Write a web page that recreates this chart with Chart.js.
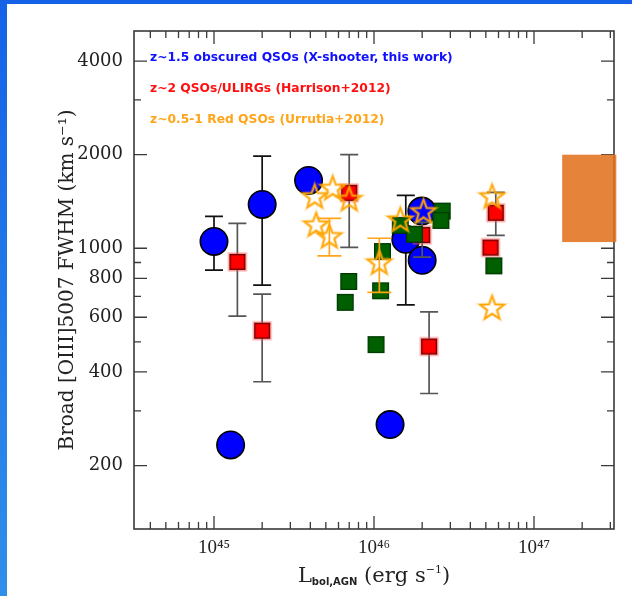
<!DOCTYPE html>
<html>
<head>
<meta charset="utf-8">
<script src="https://cdn.jsdelivr.net/npm/chart.js@4.4.1/dist/chart.umd.min.js"></script>
<style>
  html, body { margin: 0; padding: 0; background: #fff; }
  #wrap { position: relative; width: 632px; height: 596px; overflow: hidden; background: #fff; }
  #c { position: absolute; left: 0; top: 0; }
  .edge-left { position: absolute; left: 0; top: 0; width: 7px; height: 596px; background: linear-gradient(#1562e7, #2f8fe9); }
  .edge-top { position: absolute; left: 0; top: 0; width: 632px; height: 4px; background: #1562e7; }
</style>
</head>
<body>
<div id="wrap">
  <canvas id="c" width="632" height="596"></canvas>
  <div class="edge-left"></div>
  <div class="edge-top"></div>
</div>
<script>
// ---- z~1.5 obscured QSOs (X-shooter) ----
const obscuredL    = [1.0e45, 1.27e45, 2.0e45, 3.9e45, 1.58e46, 1.99e46, 2.0e46, 1.26e46];
const obscuredFWHM = [1052, 233, 1384, 1652, 1069, 1317, 915, 271];
const obscuredLow  = [850, null, 761, null, 658, null, null, null];
const obscuredHigh = [1266, null, 1980, null, 1479, null, null, null];

// ---- z~2 QSOs/ULIRGs (Harrison+2012) ----
const harrisonL    = [1.4e45, 2.0e45, 7.0e45, 2.0e46, 2.21e46, 5.35e46, 5.77e46];
const harrisonFWHM = [904, 543, 1508, 1103, 483, 1005, 1301];
const harrisonLow  = [605, 372, 1007, 936, 341, null, 1101];
const harrisonHigh = [1203, 712, 2000, 1212, 624, null, 1514];

// ---- additional comparison sample (green squares) ----
const greenL    = [6.61e45, 6.95e45, 1.03e46, 1.1e46, 1.13e46, 1.46e46, 1.79e46, 2.67e46, 2.62e46, 5.61e46];
const greenFWHM = [670, 782, 490, 730, 976, 1185, 1109, 1317, 1229, 878];

// ---- z~0.5-1 Red QSOs (Urrutia+2012) ----
const urrutiaL    = [4.26e45, 5.52e45, 7.0e45, 4.35e45, 5.26e45, 1.08e46, 1.46e46, 2.04e46, 5.47e46, 5.47e46];
const urrutiaFWHM = [1471, 1565, 1443, 1194, 1095, 902, 1239, 1317, 1471, 645];
const urrutiaLow  = [null, null, null, null, 945, 721, null, null, null, null];
const urrutiaHigh = [null, null, null, null, 1248, 1077, null, null, null, null];

// ---- axes ----
const xRange = [3.1623e44, 3.1623e47];
const yRange = [125, 5000];
const xMajorTicks = [1e45, 1e46, 1e47];
const xMinorTicks = [4e44, 5e44, 6e44, 7e44, 8e44, 9e44,
                     2e45, 3e45, 4e45, 5e45, 6e45, 7e45, 8e45, 9e45,
                     2e46, 3e46, 4e46, 5e46, 6e46, 7e46, 8e46, 9e46,
                     2e47, 3e47];
const yMajorTicks = [200, 400, 600, 800, 1000, 2000, 4000];
const yMinorTicks = [300, 500, 700, 900, 3000];

// ---- legend lines ----
const legendLabels = [
  'z~1.5 obscured QSOs (X-shooter, this work)',
  'z~2 QSOs/ULIRGs (Harrison+2012)',
  'z~0.5-1 Red QSOs (Urrutia+2012)'
];
const legendColors = ['#1010ff', '#ff1010', '#ffa51a'];

// ---- shaded box on the right edge ----
const boxL    = [1.5e47, 3.27e47];
const boxFWHM = [1047, 2000];

const pairs = (xs, ys) => xs.map((v, i) => ({ x: v, y: ys[i] }));

// point glyphs
function squareGlyph(fill, edge, halo, side) {
  const s = side + 6, c = document.createElement('canvas');
  c.width = c.height = s;
  const g = c.getContext('2d');
  const o = (s - side) / 2;
  if (halo) { g.fillStyle = halo; g.fillRect(o - 1.5, o - 1.5, side + 3, side + 3); }
  g.fillStyle = edge; g.fillRect(o, o, side, side);
  g.fillStyle = fill; g.fillRect(o + 1.3, o + 1.3, side - 2.6, side - 2.6);
  return c;
}
function starGlyph(R) {
  const s = Math.ceil(R * 2 + 8), c = document.createElement('canvas');
  c.width = c.height = s;
  const g = c.getContext('2d');
  const r = R * 0.42;
  g.beginPath();
  for (let k = 0; k < 10; k++) {
    const a = -Math.PI / 2 + k * Math.PI / 5;
    const rad = k % 2 ? r : R;
    g.lineTo(s / 2 + rad * Math.cos(a), s / 2 + 1 + rad * Math.sin(a));
  }
  g.closePath();
  g.lineJoin = 'miter';
  g.strokeStyle = 'rgba(255,170,20,0.35)'; g.lineWidth = 3.4; g.stroke();
  g.strokeStyle = '#ffa500'; g.lineWidth = 1.6; g.stroke();
  return c;
}
const redSquare = squareGlyph('#ff0000', '#6a0000', 'rgba(255,90,90,0.55)', 16);
const greenSquare = squareGlyph('#006000', '#003a00', null, 17);
const orangeStar = starGlyph(12.5);

// error bars are painted right before their own dataset
const errorBars = {
  id: 'errorBars',
  beforeDatasetDraw(chart, args) {
    const ds = chart.data.datasets[args.index];
    if (!ds.errLow) return;
    const { ctx, scales: { x, y } } = chart;
    ctx.save();
    ctx.strokeStyle = ds.errColor;
    ctx.lineWidth = 1.7;
    ds.data.forEach((p, i) => {
      const lo = ds.errLow[i], hi = ds.errHigh[i];
      if (lo == null || hi == null) return;
      const px = x.getPixelForValue(p.x);
      const y1 = y.getPixelForValue(hi), y2 = y.getPixelForValue(lo);
      const w = ds.capHalf;
      ctx.beginPath();
      ctx.moveTo(px, y1); ctx.lineTo(px, y2);
      ctx.moveTo(px - w, y1); ctx.lineTo(px + w, y1);
      ctx.moveTo(px - w, y2); ctx.lineTo(px + w, y2);
      ctx.stroke();
    });
    ctx.restore();
  }
};

// frame with inward ticks on all four sides
const frame = {
  id: 'frame',
  beforeDatasetsDraw(chart) {
    const { ctx, chartArea: a, scales: { x, y } } = chart;
    ctx.save();
    ctx.strokeStyle = '#3a3a3a';
    ctx.lineWidth = 1.3;
    ctx.beginPath();
    const xt = (v, len) => {
      const p = x.getPixelForValue(v);
      ctx.moveTo(p, a.bottom); ctx.lineTo(p, a.bottom - len);
      ctx.moveTo(p, a.top); ctx.lineTo(p, a.top + len);
    };
    const yt = (v, len) => {
      const p = y.getPixelForValue(v);
      ctx.moveTo(a.left, p); ctx.lineTo(a.left + len, p);
      ctx.moveTo(a.right, p); ctx.lineTo(a.right - len, p);
    };
    xMajorTicks.forEach(v => xt(v, 13));
    xMinorTicks.forEach(v => xt(v, 7));
    yMajorTicks.forEach(v => yt(v, 13));
    yMinorTicks.forEach(v => yt(v, 7));
    ctx.stroke();
    ctx.lineWidth = 1.6;
    ctx.strokeRect(a.left, a.top, a.right - a.left, a.bottom - a.top);
    ctx.restore();
  },
  afterDraw(chart) {
    const { ctx, chartArea: a, scales: { x, y } } = chart;
    ctx.save();
    // legend text
    ctx.font = 'bold 12.3px "DejaVu Sans"';
    ctx.textBaseline = 'middle';
    ctx.textAlign = 'left';
    legendLabels.forEach((t, i) => {
      ctx.fillStyle = legendColors[i];
      ctx.fillText(t, a.left + 16, a.top + 27 + i * 31);
    });
    // x-axis title with subscript and superscript
    const parts = [
      { t: 'L', f: '21px "DejaVu Serif"', dy: 0 },
      { t: 'bol,AGN', f: 'bold 10px "DejaVu Sans"', dy: 3 },
      { t: ' (erg s', f: '21px "DejaVu Serif"', dy: 0 },
      { t: '\u22121', f: '11px "DejaVu Serif"', dy: -9 },
      { t: ')', f: '21px "DejaVu Serif"', dy: 0 }
    ];
    ctx.fillStyle = '#222';
    ctx.textBaseline = 'alphabetic';
    let total = 0;
    parts.forEach(p => { ctx.font = p.f; p.w = ctx.measureText(p.t).width; total += p.w; });
    let cx = (a.left + a.right) / 2 - total / 2;
    const base = 582;
    parts.forEach(p => { ctx.font = p.f; ctx.fillText(p.t, cx, base + p.dy); cx += p.w; });
    // shaded box, with the frame edge showing through
    const bx1 = x.getPixelForValue(boxL[0]), bx2 = x.getPixelForValue(boxL[1]);
    const by1 = y.getPixelForValue(boxFWHM[1]), by2 = y.getPixelForValue(boxFWHM[0]);
    ctx.fillStyle = '#e6833a';
    ctx.fillRect(bx1, by1, bx2 - bx1, by2 - by1);
    ctx.strokeStyle = '#c96b2a';
    ctx.lineWidth = 1.6;
    ctx.beginPath(); ctx.moveTo(a.right, by1); ctx.lineTo(a.right, by2); ctx.stroke();
    ctx.restore();
  }
};

new Chart(document.getElementById('c'), {
  type: 'scatter',
  data: {
    datasets: [
      {
        label: 'z~0.5-1 Red QSOs (Urrutia+2012)',
        data: pairs(urrutiaL, urrutiaFWHM),
        pointStyle: orangeStar, pointRadius: 8,
        errLow: urrutiaLow, errHigh: urrutiaHigh, errColor: '#ffa51a', capHalf: 12,
        order: 0
      },
      {
        label: 'comparison',
        data: pairs(greenL, greenFWHM),
        pointStyle: greenSquare, pointRadius: 8,
        order: 1
      },
      {
        label: 'z~2 QSOs/ULIRGs (Harrison+2012)',
        data: pairs(harrisonL, harrisonFWHM),
        pointStyle: redSquare, pointRadius: 8,
        errLow: harrisonLow, errHigh: harrisonHigh, errColor: '#555555', capHalf: 9,
        order: 2
      },
      {
        label: 'z~1.5 obscured QSOs (X-shooter, this work)',
        data: pairs(obscuredL, obscuredFWHM),
        pointStyle: 'circle', pointRadius: 13.7,
        backgroundColor: '#0000ff', borderColor: '#000', borderWidth: 1.6,
        errLow: obscuredLow, errHigh: obscuredHigh, errColor: '#111111', capHalf: 9,
        order: 3
      }
    ]
  },
  options: {
    responsive: false,
    animation: false,
    events: [],
    layout: { padding: { top: 31, right: 18, left: 0, bottom: 0 } },
    plugins: { legend: { display: false }, tooltip: { enabled: false } },
    scales: {
      x: {
        type: 'logarithmic',
        min: xRange[0], max: xRange[1],
        grid: { display: false, drawTicks: false },
        border: { display: false },
        afterBuildTicks: s => { s.ticks = xMajorTicks.map(v => ({ value: v })); },
        afterFit: s => { s.height = 67; },
        ticks: {
          autoSkip: false, maxRotation: 0, padding: 8,
          color: '#222',
          font: { family: 'Liberation Serif', size: 19 },
          callback: v => '10' + String(Math.round(Math.log10(v))).replace(/\d/g, d => '⁰¹²³⁴⁵⁶⁷⁸⁹'[d])
        },
        title: { display: false }
      },
      y: {
        type: 'logarithmic',
        min: yRange[0], max: yRange[1],
        grid: { display: false, drawTicks: false },
        border: { display: false },
        afterBuildTicks: s => { s.ticks = yMajorTicks.map(v => ({ value: v })); },
        afterFit: s => { s.width = 134; },
        ticks: {
          autoSkip: false, padding: 11,
          color: '#222',
          font: { family: 'DejaVu Serif', size: 18 },
          callback: v => String(v)
        },
        title: {
          display: true,
          text: 'Broad [OIII]5007 FWHM (km s\u207B\u00B9)',
          color: '#222',
          font: { family: 'DejaVu Serif', size: 20 },
          padding: { top: 56, bottom: 0 }
        }
      }
    }
  },
  plugins: [errorBars, frame]
});
</script>
</body>
</html>
